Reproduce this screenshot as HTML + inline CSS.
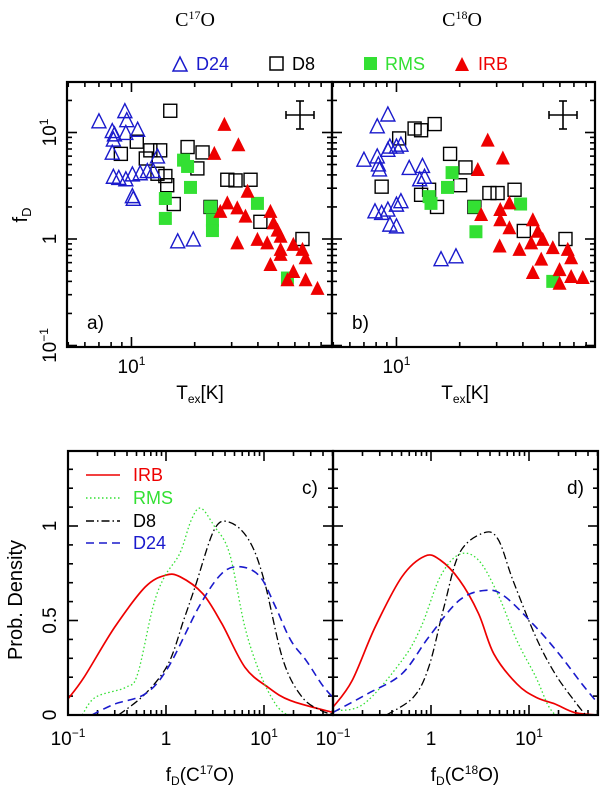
<!DOCTYPE html>
<html><head><meta charset="utf-8">
<style>
html,body{margin:0;padding:0;background:#fff;}
svg{display:block;font-family:"Liberation Sans",sans-serif;}
</style></head>
<body>
<svg id="fig" width="600" height="786" viewBox="0 0 600 786">
<text x="195" y="26" font-family="Liberation Serif" font-size="20" text-anchor="middle">C<tspan font-size="12" dy="-7">17</tspan><tspan dy="7">O</tspan></text>
<text x="462" y="26" font-family="Liberation Serif" font-size="20" text-anchor="middle">C<tspan font-size="12" dy="-7">18</tspan><tspan dy="7">O</tspan></text>
<g font-size="18">
<polygon points="173,71 187,71 180,57" fill="none" stroke="#1a1acc" stroke-width="1.5"/>
<text x="196" y="70" fill="#1a1acc">D24</text>
<rect x="270" y="57" width="13" height="13" fill="none" stroke="#000" stroke-width="1.5"/>
<text x="292" y="70">D8</text>
<rect x="364" y="57" width="13" height="13" fill="#33e033"/>
<text x="385" y="70" fill="#33e033">RMS</text>
<polygon points="455,71 469,71 462,57" fill="#ee0000"/>
<text x="478" y="70" fill="#ee0000">IRB</text>
</g>
<text transform="translate(27,215) rotate(-90)" font-size="20" text-anchor="middle">f<tspan font-size="13" dy="4">D</tspan></text>
<text transform="translate(22,600) rotate(-90)" font-size="20" text-anchor="middle">Prob.  Density</text>
<text x="200" y="399" font-size="19" text-anchor="middle">T<tspan font-size="12" dy="4">ex</tspan><tspan dy="-4">[K]</tspan></text>
<text x="465" y="399" font-size="19" text-anchor="middle">T<tspan font-size="12" dy="4">ex</tspan><tspan dy="-4">[K]</tspan></text>
<text x="200" y="781" font-size="19" text-anchor="middle">f<tspan font-size="12" dy="4">D</tspan><tspan dy="-4">(C</tspan><tspan font-size="12" dy="-7">17</tspan><tspan dy="7">O)</tspan></text>
<text x="465" y="781" font-size="19" text-anchor="middle">f<tspan font-size="12" dy="4">D</tspan><tspan dy="-4">(C</tspan><tspan font-size="12" dy="-7">18</tspan><tspan dy="7">O)</tspan></text>
<g id="plots"></g>
</svg>
<script>
// ---- scatter data (Tex [K], fD) ----
const aD24T=[7.0,9.3,9.5,8.1,8.3,8.2,9.4,10.7,8.1,13.3,8.2,8.7,9.4,10.1,11.0,11.9,12.7,10.1,10.2,16.6,19.7];
const aD24F=[12.6,15.7,12.9,10.2,9.5,8.5,9.8,10.5,6.4,5.9,3.8,3.7,3.6,4.0,4.1,4.3,4.3,2.5,2.36,0.94,0.98];
const aD8T=[15.3,8.9,10.6,11.7,12.3,13.7,18.5,21.8,20.6,13.3,14.5,14.8,15.9,23.8,28.6,31.3,36.9,41.1,65.2];
const aD8F=[16.0,6.3,8.2,5.7,6.8,6.8,7.3,6.5,4.6,4.1,3.9,3.2,2.13,2.0,3.6,3.55,3.6,1.45,1.0];
const aRMST=[17.7,18.5,19.1,14.5,14.5,23.8,24.3,24.3,39.8,55.3];
const aRMSF=[5.5,4.8,3.05,2.4,1.56,2.0,1.5,1.2,2.16,0.43];
const aIRBT=[27.7,32.3,24.8,35.7,28.6,31.9,26.5,34.9,45.9,47.5,49.6,51.3,31.9,39.8,44.3,51.3,59,45.9,51.3,65.2,67.5,59,55.3,67.5,76.9];
const aIRBF=[11.8,7.6,6.3,2.78,2.16,1.94,1.8,1.62,1.8,1.4,1.2,1.05,0.91,0.98,0.91,0.79,0.88,0.57,0.71,0.79,0.66,0.49,0.41,0.41,0.34];
const bD24T=[7.0,8.1,8.2,8.3,9.1,9.3,9.1,8.1,10,10.5,11.5,13.3,13.6,12.9,7.9,8.5,9.1,10,10.5,9.3,10,16.3,19.2];
const bD24F=[5.5,5.9,4.96,4.45,6.8,7.3,14.6,11.3,7.3,7.6,4.6,4.8,3.8,3.6,1.8,1.74,1.87,2.08,2.24,1.35,1.3,0.64,0.68];
const bD8T=[10.3,12.2,13.1,15.2,18.0,21.3,20.1,8.5,13.1,14.3,15.6,23.5,27.7,30.3,36.5,40.4,63.8];
const bD8F=[8.8,10.9,10.5,12.0,6.3,4.7,3.2,3.1,2.6,2.9,2.0,2.0,2.7,2.7,2.9,1.19,1.0];
const bRMST=[18.4,17.5,14.3,14.6,23.5,23.9,39,55.5];
const bRMSF=[4.2,3.05,2.5,2.16,2.0,1.17,2.13,0.40];
const bIRBT=[27.2,32.1,24.4,25.3,31.2,34.5,31.2,34.5,44.6,47.1,31,38.5,43.8,49.7,55.5,48.9,44.6,65.4,67.9,59.8,59.8,67.9,77.1];
const bIRBF=[8.4,5.7,4.45,1.68,1.87,2.16,1.5,1.26,1.5,1.17,0.85,0.79,0.91,0.98,0.82,0.64,0.48,0.79,0.66,0.51,0.38,0.44,0.43];
// ---- KDE curves (log10 fD, density) ----
const cIRBX=[-1,-0.836,-0.523,-0.211,0,0.145,0.375,0.57,0.805,1.04,1.27,1.70];
const cIRBY=[0.085,0.2,0.465,0.678,0.74,0.731,0.642,0.483,0.253,0.147,0.076,0.014];
const cRMSX=[-0.855,-0.719,-0.406,-0.289,-0.133,-0.016,0.141,0.258,0.355,0.492,0.648,0.805,0.961,1.117,1.234];
const cRMSY=[0,0.094,0.147,0.218,0.572,0.731,0.855,1.032,1.094,1.0,0.855,0.465,0.218,0.058,0];
const cD8X=[-0.484,-0.211,0.023,0.18,0.297,0.492,0.648,0.844,1.0,1.195,1.39,1.586,1.70];
const cD8Y=[0,0.112,0.271,0.501,0.678,0.98,1.02,0.927,0.715,0.290,0.094,0.023,0.005];
const cD24X=[-0.758,-0.523,-0.211,0.023,0.336,0.57,0.766,0.961,1.117,1.273,1.43,1.586,1.70];
const cD24Y=[0,0.058,0.112,0.253,0.572,0.749,0.784,0.731,0.572,0.395,0.289,0.165,0.094];
const dIRBX=[-1,-0.805,-0.570,-0.297,-0.0625,0.094,0.289,0.484,0.641,0.875,1.07,1.266,1.461,1.695];
const dIRBY=[0.041,0.182,0.465,0.731,0.841,0.82,0.715,0.538,0.324,0.165,0.094,0.058,0.014,0];
const dRMSX=[-1,-0.6875,-0.297,-0.102,0.094,0.289,0.484,0.68,0.875,1.07,1.1875,1.266];
const dRMSY=[0.023,0.058,0.288,0.465,0.731,0.85,0.82,0.642,0.395,0.2,0.058,0];
const dD8X=[-0.453,-0.18,-0.023,0.133,0.289,0.523,0.68,0.836,1.07,1.266,1.461,1.578];
const dD8Y=[0,0.094,0.253,0.572,0.855,0.961,0.934,0.713,0.412,0.218,0.076,0];
const dD24X=[-1,-0.648,-0.297,-0.023,0.289,0.563,0.758,1.07,1.305,1.539,1.695];
const dD24Y=[0.014,0.112,0.218,0.412,0.607,0.66,0.625,0.465,0.324,0.165,0.067];

const NS='http://www.w3.org/2000/svg';
const G=document.getElementById('plots');
function mk(tag,attrs,parent){const e=document.createElementNS(NS,tag);for(const k in attrs)e.setAttribute(k,attrs[k]);(parent||G).appendChild(e);return e;}
const BLUE='#1a1acc',GREEN='#33e033',RED='#ee0000';

const TY0=82,TY1=347;
function fy(f){return 239-Math.log10(f)*106.5;}
function tx(x0,T){return x0+(Math.log10(T)-0.693)*210;}
function tick(x1,y1,x2,y2,name){const l=mk('line',{x1:x1,y1:y1,x2:x2,y2:y2,stroke:'#000','stroke-width':1.6});

}

function topPanel(x0,x1,D24T,D24F,D8T,D8F,RT,RF,IT,IF,label,errx){
  for(let d=-1;d<=1;d++)for(let m=1;m<10;m++){const v=m*Math.pow(10,d);const y=fy(v);if(y<TY0||y>TY1)continue;const L=m==1?10:5;
    tick(x0,y,x0+L,y,'y-tick');tick(x1,y,x1-L,y,'y-tick');}
  for(let d=0;d<=1;d++)for(let m=1;m<10;m++){const v=m*Math.pow(10,d);const x=tx(x0,v);if(x<x0||x>x1)continue;const L=v==10?10:5;
    tick(x,TY1,x,TY1-L,'x-tick');tick(x,TY0,x,TY0+L,'x-tick');}
  const fr=mk('rect',{x:x0,y:TY0,width:x1-x0,height:TY1-TY0,fill:'none',stroke:'#000','stroke-width':2.2});
  
  
  for(let i=0;i<D8T.length;i++){const x=tx(x0,D8T[i]),y=fy(D8F[i]);const r=mk('rect',{x:x-6.5,y:y-6.5,width:13,height:13,fill:'none',stroke:'#000','stroke-width':1.4});
    
    }
  for(let i=0;i<RT.length;i++){const x=tx(x0,RT[i]),y=fy(RF[i]);const r=mk('rect',{x:x-6.5,y:y-6.5,width:13,height:13,fill:GREEN});
    
    }
  for(let i=0;i<IT.length;i++){const x=tx(x0,IT[i]),y=fy(IF[i]);const p=mk('polygon',{points:`${x-7},${y+6} ${x+7},${y+6} ${x},${y-8}`,fill:RED});
    
    }
  for(let i=0;i<D24T.length;i++){const x=tx(x0,D24T[i]),y=fy(D24F[i]);const p=mk('polygon',{points:`${x-7},${y+6} ${x+7},${y+6} ${x},${y-8}`,fill:'none',stroke:BLUE,'stroke-width':1.4});
    
    }
  const ex=errx,ey=115;
  tick(ex-14,ey,ex+14,ey,'error-bar');tick(ex,ey-14,ex,ey+14,'error-bar');
  tick(ex-14,ey-4,ex-14,ey+4,'error-bar');tick(ex+14,ey-4,ex+14,ey+4,'error-bar');
  tick(ex-4,ey-14,ex+4,ey-14,'error-bar');tick(ex-4,ey+14,ex+4,ey+14,'error-bar');
  const t=mk('text',{x:x0+20,y:329,'font-size':19});t.textContent=label;
  
  
  const xl=mk('text',{x:tx(x0,10),y:373,'font-size':19,'text-anchor':'middle'});xl.innerHTML='10<tspan font-size="12" dy="-8">1</tspan>';
  
  
}
topPanel(67,332,aD24T,aD24F,aD8T,aD8F,aRMST,aRMSF,aIRBT,aIRBF,'a)',300);
topPanel(332,595,bD24T,bD24F,bD8T,bD8F,bRMST,bRMSF,bIRBT,bIRBF,'b)',563);
[[fy(10),'10<tspan font-size="12" dy="-8">1</tspan>'],[fy(1),'1'],[fy(0.1),'10<tspan font-size="12" dy="-8">−1</tspan>']].forEach(([y,h])=>{
  const t=mk('text',{transform:`translate(56,${y}) rotate(-90)`,'font-size':19,'text-anchor':'middle'});t.innerHTML=h;
  
  });

const BY0=451,BY1=715;
function dy(v){return BY1-v*189;}
function bx(x0,l){return x0+(l+1)*98;}
function smooth(P){let d='M'+P[0][0].toFixed(1)+','+P[0][1].toFixed(1);
  for(let i=0;i<P.length-1;i++){const p0=P[i-1]||P[i],p1=P[i],p2=P[i+1],p3=P[i+2]||P[i+1];
    const c1=[p1[0]+(p2[0]-p0[0])/6,p1[1]+(p2[1]-p0[1])/6],c2=[p2[0]-(p3[0]-p1[0])/6,p2[1]-(p3[1]-p1[1])/6];
    d+='C'+c1[0].toFixed(1)+','+c1[1].toFixed(1)+' '+c2[0].toFixed(1)+','+c2[1].toFixed(1)+' '+p2[0].toFixed(1)+','+p2[1].toFixed(1);}
  return d;}
function botPanel(x0,x1,curves,label){
  for(let k=0;k<=14;k++){const y=dy(k/10);if(y<BY0)continue;const L=(k%5==0)?10:5;tick(x0,y,x0+L,y,'y-tick');tick(x1,y,x1-L,y,'y-tick');}
  for(let d=-1;d<=1;d++)for(let m=1;m<10;m++){const v=m*Math.pow(10,d);const x=bx(x0,Math.log10(v));if(x<x0-0.5||x>x1)continue;const L=m==1?10:5;
    tick(x,BY1,x,BY1-L,'x-tick');tick(x,BY0,x,BY0+L,'x-tick');}
  curves.forEach(([X,Y,col,dash,w,name])=>{
    const P=X.map((v,i)=>[bx(x0,v),dy(Y[i])]);
    const p=mk('path',{d:smooth(P),fill:'none',stroke:col,'stroke-width':w,'stroke-dasharray':dash,'stroke-linejoin':'round'});
    
    });
  const fr=mk('rect',{x:x0,y:BY0,width:x1-x0,height:BY1-BY0,fill:'none',stroke:'#000','stroke-width':2.2});
  
  
  const t=mk('text',{x:x1-31,y:494,'font-size':19});t.textContent=label;
  
  
  [[-1,'10<tspan font-size="12" dy="-8">−1</tspan>'],[0,'1'],[1,'10<tspan font-size="12" dy="-8">1</tspan>']].forEach(([l,h])=>{
    const tl=mk('text',{x:bx(x0,l),y:745,'font-size':19,'text-anchor':'middle'});tl.innerHTML=h;
    
    });
}
botPanel(68,333,[[cIRBX,cIRBY,RED,'none',1.7,'curve-irb-c'],[cRMSX,cRMSY,GREEN,'1.5,2.5',1.3,'curve-rms-c'],[cD8X,cD8Y,'#000','8,3,1.5,3',1.3,'curve-d8-c'],[cD24X,cD24Y,BLUE,'8,5',1.6,'curve-d24-c']],'c)');
botPanel(333,598,[[dIRBX,dIRBY,RED,'none',1.7,'curve-irb-d'],[dRMSX,dRMSY,GREEN,'1.5,2.5',1.3,'curve-rms-d'],[dD8X,dD8Y,'#000','8,3,1.5,3',1.3,'curve-d8-d'],[dD24X,dD24Y,BLUE,'8,5',1.6,'curve-d24-d']],'d)');
[[0,'0'],[0.5,'0.5'],[1,'1']].forEach(([v,s])=>{
  const t=mk('text',{transform:`translate(56,${dy(v)}) rotate(-90)`,'font-size':19,'text-anchor':'middle'});t.textContent=s;
  
  });
[['IRB',RED,'none',481],['RMS',GREEN,'1.5,2.5',504],['D8','#000','8,3,1.5,3',527],['D24',BLUE,'8,5',549]].forEach(([n,c,da,y])=>{
  const l=mk('line',{x1:86,y1:y-6,x2:120,y2:y-6,stroke:c,'stroke-width':1.5,'stroke-dasharray':da});
  
  
  const t=mk('text',{x:133,y:y,'font-size':18,fill:c});t.textContent=n;
  
  });
</script>
</body></html>
